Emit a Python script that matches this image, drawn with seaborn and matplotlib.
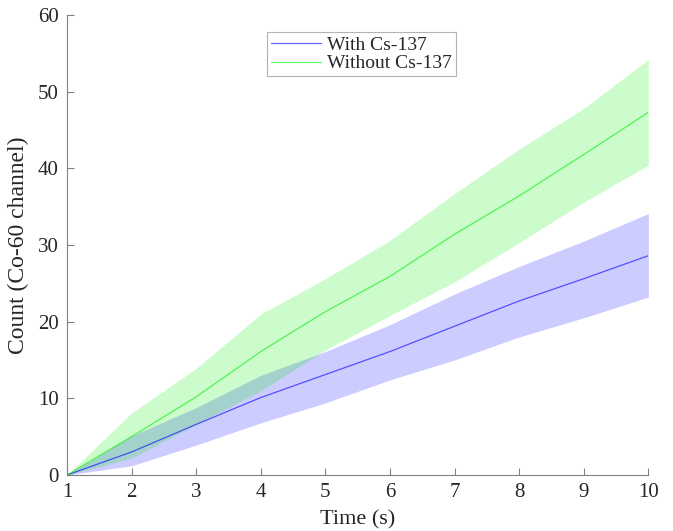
import numpy as np
import pandas as pd
import matplotlib
matplotlib.use("Agg")
import matplotlib.pyplot as plt
import seaborn as sns

# Tiempo (s)
time_s = [1, 2, 3, 4, 5, 6, 7, 8, 9, 10]

# Con Cs-137: media y banda
with_mean = [0, 3.0, 6.6, 10.1, 13.1, 16.1, 19.4, 22.7, 25.6, 28.6]
with_low = [0, 1.2, 3.9, 6.8, 9.4, 12.4, 15.0, 18.0, 20.5, 23.2]
with_high = [0, 5.1, 8.8, 13.0, 16.1, 19.6, 23.6, 27.2, 30.5, 34.1]

# Sin Cs-137: media y banda
without_mean = [0, 5.0, 10.2, 16.1, 21.3, 25.9, 31.4, 36.4, 41.8, 47.3]
without_low = [0, 2.2, 6.6, 11.0, 16.3, 20.8, 25.2, 30.3, 35.6, 40.4]
without_high = [0, 8.1, 13.9, 21.0, 25.6, 30.6, 36.7, 42.5, 47.8, 54.2]

labels = ['With Cs-137', 'Without Cs-137']

df = pd.DataFrame({
    'Time': time_s * 2,
    'Count': with_mean + without_mean,
    'Serie': [labels[0]] * len(time_s) + [labels[1]] * len(time_s),
})

sns.set_style('white')
plt.rcParams['font.family'] = ['Liberation Serif', 'DejaVu Serif']

fig = plt.figure(figsize=(6.73, 5.31), dpi=100)
ax = fig.add_axes([0.0996, 0.1055, 0.8637, 0.8663])

colores = {labels[0]: '#0000ff', labels[1]: '#00ee00'}

ax.fill_between(time_s, with_low, with_high, color='#0000ff', alpha=0.2, linewidth=0)
ax.fill_between(time_s, without_low, without_high, color='#00ee00', alpha=0.2, linewidth=0)

sns.lineplot(data=df, x='Time', y='Count', hue='Serie', palette=colores,
             linewidth=0.9, alpha=0.6, ax=ax)

ax.set_xlim(1, 10)
ax.set_ylim(0, 60)
ax.set_xticks(range(1, 11))
ax.set_yticks(range(0, 61, 10))
ax.set_xlabel('Time (s)', fontsize=16, color='#262626', labelpad=6)
ax.set_ylabel('Count (Co-60 channel)', fontsize=17, color='#262626', labelpad=6)

for s in ['top', 'right']:
    ax.spines[s].set_visible(False)
for s in ['left', 'bottom']:
    ax.spines[s].set_color('#808080')
    ax.spines[s].set_linewidth(0.8)
ax.tick_params(direction='in', length=5, width=0.8, color='#808080',
               labelsize=15, labelcolor='#262626', left=True, bottom=True, pad=6)

leg = ax.legend(loc='upper center', bbox_to_anchor=(0.506, 0.975), fontsize=14,
                frameon=True, fancybox=False, handlelength=2.6, borderpad=0.2,
                labelspacing=0.05, handletextpad=0.3, borderaxespad=0.3)
leg.get_frame().set_edgecolor('#a0a0a0')
leg.get_frame().set_linewidth(0.8)

fig.savefig('out.png', dpi=100)
